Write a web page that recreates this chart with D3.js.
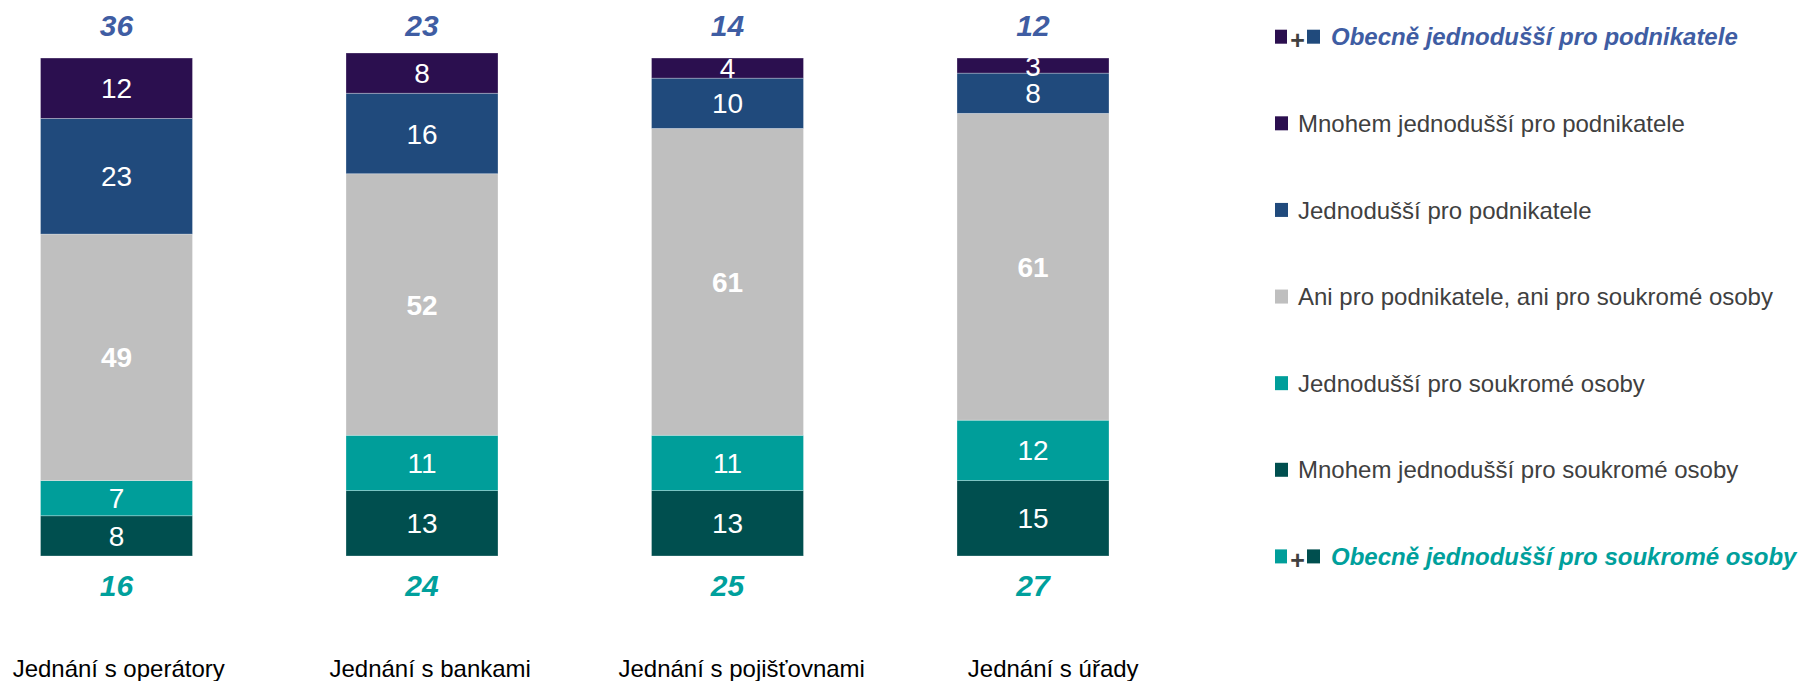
<!DOCTYPE html>
<html>
<head>
<meta charset="utf-8">
<script src="https://cdn.jsdelivr.net/npm/d3@7"></script>
<style>
  html, body { margin: 0; padding: 0; background: #ffffff; }
  svg { display: block; font-family: "Liberation Sans", Arial, sans-serif; }
</style>
</head>
<body>
<svg id="chart" width="1799" height="681"></svg>
<script>
// ---------- data ----------
const categories = ["Jednání s operátory", "Jednání s bankami", "Jednání s pojišťovnami", "Jednání s úřady"];
const seriesKeys = ["mnohemSouk", "jednSouk", "ani", "jednPodn", "mnohemPodn"]; // bottom -> top
const seriesNames = {
  mnohemPodn: "Mnohem jednodušší pro podnikatele",
  jednPodn: "Jednodušší pro podnikatele",
  ani: "Ani pro podnikatele, ani pro soukromé osoby",
  jednSouk: "Jednodušší pro soukromé osoby",
  mnohemSouk: "Mnohem jednodušší pro soukromé osoby"
};
const mnohemPodn = [12, 8, 4, 3];
const jednPodn   = [23, 16, 10, 8];
const ani        = [49, 52, 61, 61];
const jednSouk   = [7, 11, 11, 12];
const mnohemSouk = [8, 13, 13, 15];
const totalPodn  = [36, 23, 14, 12];
const totalSouk  = [16, 24, 25, 27];
const totalPodnLabel = "Obecně jednodušší pro podnikatele";
const totalSoukLabel = "Obecně jednodušší pro soukromé osoby";

// ---------- styles ----------
const colors = {
  mnohemPodn: "#2B0F4F",
  jednPodn: "#204A7C",
  ani: "#BFBFBF",
  jednSouk: "#009E9A",
  mnohemSouk: "#004F4F"
};
const podnColor = "#3F5DA3";
const soukColor = "#00A09C";
const textGray = "#404040";

const rows = categories.map((c, i) => ({
  cat: c,
  mnohemPodn: mnohemPodn[i], jednPodn: jednPodn[i], ani: ani[i],
  jednSouk: jednSouk[i], mnohemSouk: mnohemSouk[i],
  totalPodn: totalPodn[i], totalSouk: totalSouk[i]
}));

const svg = d3.select("#chart");

const x = d3.scaleBand().domain(categories).range([-36.25, 1185.75]).paddingInner(0.5025).paddingOuter(0.25125);
const y = d3.scaleLinear().domain([0, 100]).range([556, 53]);
// category labels sit on a slightly wider grid than the bars
const xLabel = d3.scalePoint().domain(categories).range([118.7, 1053.2]);

const stack = d3.stack().keys(seriesKeys)(rows);

svg.append("defs").append("clipPath").attr("id", "plotclip")
  .append("rect").attr("x", 0).attr("y", y(99)).attr("width", 1200).attr("height", y(0) - y(99) + 1);

const g = svg.append("g");

const layers = g.selectAll("g.layer").data(stack).join("g").attr("class", "layer")
  .attr("fill", d => colors[d.key]);

layers.selectAll("rect").data(d => d).join("rect")
  .attr("x", d => x(d.data.cat))
  .attr("width", x.bandwidth())
  .attr("y", d => y(d[1]))
  .attr("height", d => y(d[0]) - y(d[1]))
  .attr("stroke", "rgba(255,255,255,0.35)")
  .attr("stroke-width", 0.8);

// segment labels
const lbl = g.append("g").attr("clip-path", "url(#plotclip)");
stack.forEach(layer => {
  lbl.selectAll(null).data(layer).join("text")
    .attr("x", d => x(d.data.cat) + x.bandwidth() / 2)
    .attr("y", d => (y(d[0]) + y(d[1])) / 2)
    .attr("dy", "0.36em")
    .attr("text-anchor", "middle")
    .attr("fill", "#ffffff")
    .attr("font-size", 28)
    .attr("font-weight", layer.key === "ani" ? "bold" : "normal")
    .text(d => d[1] - d[0]);
});

// totals
g.selectAll("text.tp").data(rows).join("text").attr("class", "tp")
  .attr("x", d => x(d.cat) + x.bandwidth() / 2)
  .attr("y", 36)
  .attr("text-anchor", "middle")
  .attr("fill", podnColor)
  .attr("font-size", 30).attr("font-weight", "bold").attr("font-style", "italic")
  .text(d => d.totalPodn);

g.selectAll("text.ts").data(rows).join("text").attr("class", "ts")
  .attr("x", d => x(d.cat) + x.bandwidth() / 2)
  .attr("y", 596)
  .attr("text-anchor", "middle")
  .attr("fill", soukColor)
  .attr("font-size", 30).attr("font-weight", "bold").attr("font-style", "italic")
  .text(d => d.totalSouk);

// category labels
g.selectAll("text.cat").data(categories).join("text").attr("class", "cat")
  .attr("x", d => xLabel(d))
  .attr("y", 677)
  .attr("text-anchor", "middle")
  .attr("fill", "#000000")
  .attr("font-size", 24)
  .text(d => d);

// ---------- legend ----------
const legendItems = [
  { type: "sum", keys: ["mnohemPodn", "jednPodn"], label: totalPodnLabel, color: podnColor },
  { type: "one", key: "mnohemPodn", label: seriesNames.mnohemPodn },
  { type: "one", key: "jednPodn", label: seriesNames.jednPodn },
  { type: "one", key: "ani", label: seriesNames.ani },
  { type: "one", key: "jednSouk", label: seriesNames.jednSouk },
  { type: "one", key: "mnohemSouk", label: seriesNames.mnohemSouk },
  { type: "sum", keys: ["jednSouk", "mnohemSouk"], label: totalSoukLabel, color: soukColor }
];
const ly = d3.scalePoint().domain(d3.range(legendItems.length)).range([36.7, 556.4]);
const lg = svg.append("g");
legendItems.forEach((it, i) => {
  const cy = ly(i);
  const row = lg.append("g").attr("transform", `translate(0,${cy})`);
  if (it.type === "one") {
    row.append("rect").attr("x", 1275).attr("y", -7).attr("width", 13).attr("height", 14).attr("fill", colors[it.key]);
    row.append("text").attr("x", 1298).attr("dy", "0.36em").attr("font-size", 24).attr("fill", textGray).text(it.label);
  } else {
    row.append("rect").attr("x", 1275).attr("y", -7).attr("width", 12).attr("height", 14).attr("fill", colors[it.keys[0]]);
    row.append("text").attr("x", 1297.5).attr("dy", "0.5em").attr("text-anchor", "middle")
      .attr("font-size", 25).attr("font-weight", "bold").attr("fill", textGray).text("+");
    row.append("rect").attr("x", 1307).attr("y", -7).attr("width", 13).attr("height", 14).attr("fill", colors[it.keys[1]]);
    row.append("text").attr("x", 1331).attr("dy", "0.36em").attr("font-size", 24)
      .attr("font-weight", "bold").attr("font-style", "italic").attr("fill", it.color).text(it.label);
  }
});
</script>
</body>
</html>
